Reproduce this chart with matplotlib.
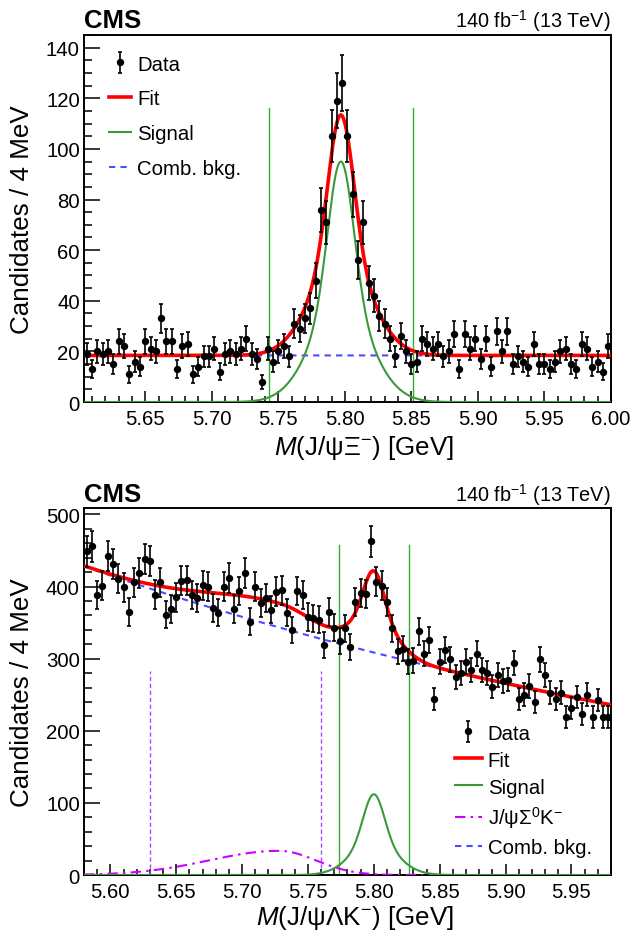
import numpy as np
import matplotlib
matplotlib.use("Agg")
import matplotlib.pyplot as plt
from matplotlib.ticker import MultipleLocator, FormatStrFormatter

plt.rcParams['font.family'] = ['Liberation Sans', 'DejaVu Sans']
plt.rcParams['mathtext.fontset'] = 'custom'
plt.rcParams['mathtext.rm'] = 'Liberation Sans'
plt.rcParams['mathtext.it'] = 'Liberation Sans:italic'
plt.rcParams['mathtext.bf'] = 'Liberation Sans:bold'

# ---------------- data: top panel  M(J/psi Xi-) ----------------
top_range = [5.604, 6.000]
top_bin = 0.004
top_counts = [19, 13, 20, 19, 20, 15, 24, 22, 11, 16, 14, 24, 21, 20, 33, 24, 24, 13, 22, 23,
              11, 14, 18, 18, 21, 12, 19, 20, 19, 21, 25, 19, 17, 8, 21, 16, 20, 22, 18, 31,
              29, 33, 37, 48, 76, 71, 105, 119, 126, 105, 82, 56, 71, 47, 42, 34, 31, 25, 18, 26,
              20, 15, 16, 25, 23, 21, 23, 18, 20, 27, 13, 27, 21, 25, 17, 25, 14, 28, 20, 28,
              15, 18, 16, 14, 23, 15, 15, 13, 16, 20, 21, 15, 13, 23, 21, 14, 16, 12, 22]
# fit model parameters
top_bkg_level = 18.4
top_sig_peak = 95.0
top_sig_mean = 5.797
top_sig_sigmas = [0.0095, 0.022]
top_sig_frac = 0.6
top_window = [5.743, 5.851]
top_window_height = 116

# ---------------- data: bottom panel  M(J/psi Lambda K-) ----------------
bot_range = [5.58, 5.98]
bot_bin = 0.004
bot_counts = [449, 456, 388, 401, 442, 431, 411, 399, 365, 406, 419, 438, 435, 389, 406, 361, 369, 385, 408, 409,
              388, 384, 402, 400, 370, 364, 400, 412, 369, 394, 419, 351, 400, 377, 384, 368, 393, 395, 364, 340,
              394, 388, 358, 356, 354, 319, 365, 343, 324, 342, 316, 379, 391, 390, 463, 407, 401, 379, 342, 310,
              314, 296, 297, 338, 307, 326, 244, 296, 312, 299, 274, 280, 296, 284, 307, 284, 280, 261, 277, 269,
              271, 294, 244, 250, 262, 240, 299, 277, 253, 244, 253, 219, 232, 247, 223, 250, 219, 243, 219, 219]
bot_bkg_amp = 428.0
bot_bkg_slope = 1.488
bot_sig_peak = 112.0
bot_sig_mean = 5.800
bot_sig_sigmas = [0.0078, 0.017]
bot_sig_frac = 0.6
bot_refl_peak = 33.5
bot_refl_mean = 5.728
bot_refl_sigmas = [0.053, 0.028]
bot_window = [5.7734, 5.827]
bot_window_height = 458
bot_sb_lines = [5.6304, 5.7602]
bot_sb_height = 283

# ---------------- helpers ----------------
def dgauss(x, peak, mu, sigmas, frac):
    d = x - mu
    return peak * (frac * np.exp(-0.5 * (d / sigmas[0]) ** 2) +
                   (1 - frac) * np.exp(-0.5 * (d / sigmas[1]) ** 2))

def bifur(x, peak, mu, sigmas):
    d = x - mu
    s = np.where(d < 0, sigmas[0], sigmas[1])
    return peak * np.exp(-0.5 * (d / s) ** 2)

RED = '#ff0000'
GREEN = '#3a9a3a'
VGREEN = '#2fae2f'
BLUE = '#4b4bff'
MAGENTA = '#cc00ff'
VIOLET = '#a44dff'

fig = plt.figure(figsize=(6.31, 9.37), dpi=100)
ax1 = fig.add_axes([0.1331, 0.5699, 0.8352, 0.3917])
ax2 = fig.add_axes([0.1331, 0.0651, 0.8352, 0.3917])

def style_axes(ax, xmaj, xmin, ymaj, ymin):
    for sp in ax.spines.values():
        sp.set_linewidth(1.4)
    ax.xaxis.set_major_locator(MultipleLocator(xmaj))
    ax.xaxis.set_minor_locator(MultipleLocator(xmin))
    ax.yaxis.set_major_locator(MultipleLocator(ymaj))
    ax.yaxis.set_minor_locator(MultipleLocator(ymin))
    ax.xaxis.set_major_formatter(FormatStrFormatter('%.2f'))
    ax.tick_params(which='both', direction='in', top=False, right=False,
                   width=1.1, labelsize=14.7)
    ax.tick_params(axis='y', which='major', length=11.5, pad=3)
    ax.tick_params(axis='y', which='minor', length=5.8)
    ax.tick_params(axis='x', which='major', length=8, pad=5)
    ax.tick_params(axis='x', which='minor', length=4.3)
    ax.set_ylabel('Candidates / 4 MeV', fontsize=18.7)
    ax.yaxis.label.set_va('center')
    ax.yaxis.set_label_coords(-0.1176, 0.5)

def data_points(ax, rng, width, counts):
    n = len(counts)
    centers = rng[0] + width * (np.arange(n) + 0.5)
    c = np.array(counts, dtype=float)
    return ax.errorbar(centers, c, yerr=np.sqrt(c), fmt='o', color='black',
                       markersize=4.3, elinewidth=1.2, capsize=1.6, capthick=1.2,
                       zorder=10, label='Data')

# ---------------- top panel ----------------
x1 = np.linspace(top_range[0], top_range[1], 1200)
sig1 = dgauss(x1, top_sig_peak, top_sig_mean, top_sig_sigmas, top_sig_frac)
bkg1 = np.full_like(x1, top_bkg_level)
for xv in top_window:
    ax1.plot([xv, xv], [0, top_window_height], color=VGREEN, lw=1.0, zorder=2)
h_bkg1, = ax1.plot(x1, bkg1, color=BLUE, lw=1.5, ls=(0, (3, 2.5)), zorder=3, label='Comb. bkg.')
h_sig1, = ax1.plot(x1, sig1, color=GREEN, lw=1.5, zorder=4, label='Signal')
h_fit1, = ax1.plot(x1, sig1 + bkg1, color=RED, lw=2.6, zorder=5, label='Fit')
h_dat1 = data_points(ax1, top_range, top_bin, top_counts)
ax1.set_xlim(*top_range)
ax1.set_ylim(0, 145)
style_axes(ax1, 0.05, 0.01, 20, 5)
ax1.set_xlabel(r'$M$(J/ψΞ$^{-}$) [GeV]', fontsize=18.7)
ax1.xaxis.label.set_va('baseline')
ax1.xaxis.label.set_ha('right')
ax1.xaxis.set_label_coords(0.702, -0.142)
ax1.text(0.0, 1.021, 'CMS', transform=ax1.transAxes, fontsize=18.5, fontweight='bold',
         ha='left', va='baseline')
ax1.text(1.0, 1.021, r'140 fb$^{-1}$ (13 TeV)', transform=ax1.transAxes, fontsize=14.3,
         ha='right', va='baseline')
ax1.legend([h_dat1, h_fit1, h_sig1, h_bkg1], ['Data', 'Fit', 'Signal', 'Comb. bkg.'],
           loc='upper left', bbox_to_anchor=(0.1727, 0.9407), bbox_transform=fig.transFigure,
           frameon=False, fontsize=14.7, borderpad=0, borderaxespad=0,
           handlelength=1.08, handletextpad=0.3, labelspacing=0.78)

# ---------------- bottom panel ----------------
x2 = np.linspace(bot_range[0], bot_range[1], 1200)
bkg2 = bot_bkg_amp * np.exp(-bot_bkg_slope * (x2 - bot_range[0]))
sig2 = dgauss(x2, bot_sig_peak, bot_sig_mean, bot_sig_sigmas, bot_sig_frac)
refl2 = bifur(x2, bot_refl_peak, bot_refl_mean, bot_refl_sigmas)
for xv in bot_window:
    ax2.plot([xv, xv], [0, bot_window_height], color=VGREEN, lw=1.0, zorder=2)
for xv in bot_sb_lines:
    ax2.plot([xv, xv], [0, bot_sb_height], color=VIOLET, lw=1.0, ls=(0, (3, 2)), zorder=2)
h_bkg2, = ax2.plot(x2, bkg2, color=BLUE, lw=1.5, ls=(0, (3, 2.5)), zorder=3, label='Comb. bkg.')
h_refl2, = ax2.plot(x2, refl2, color=MAGENTA, lw=1.5, ls=(0, (5, 2.5, 1.2, 2.5)), zorder=3,
                    label=r'J/ψΣ$^{0}$K$^{-}$')
h_sig2, = ax2.plot(x2, sig2, color=GREEN, lw=1.5, zorder=4, label='Signal')
h_fit2, = ax2.plot(x2, bkg2 + sig2 + refl2, color=RED, lw=2.6, zorder=5, label='Fit')
h_dat2 = data_points(ax2, bot_range, bot_bin, bot_counts)
ax2.set_xlim(*bot_range)
ax2.set_ylim(0, 509)
style_axes(ax2, 0.05, 0.01, 100, 20)
ax2.set_xlabel(r'$M$(J/ψΛK$^{-}$) [GeV]', fontsize=18.7)
ax2.xaxis.label.set_va('baseline')
ax2.xaxis.label.set_ha('right')
ax2.xaxis.set_label_coords(0.702, -0.134)
ax2.text(0.0, 1.019, 'CMS', transform=ax2.transAxes, fontsize=18.5, fontweight='bold',
         ha='left', va='baseline')
ax2.text(1.0, 1.019, r'140 fb$^{-1}$ (13 TeV)', transform=ax2.transAxes, fontsize=14.3,
         ha='right', va='baseline')
ax2.legend([h_dat2, h_fit2, h_sig2, h_refl2, h_bkg2],
           ['Data', 'Fit', 'Signal', r'J/ψΣ$^{0}$K$^{-}$', 'Comb. bkg.'],
           loc='upper left', bbox_to_anchor=(0.7211, 0.2267), bbox_transform=fig.transFigure,
           frameon=False, fontsize=14.7, borderpad=0, borderaxespad=0,
           handlelength=1.3, handletextpad=0.3, labelspacing=0.39)

fig.savefig('out.png', dpi=100)
